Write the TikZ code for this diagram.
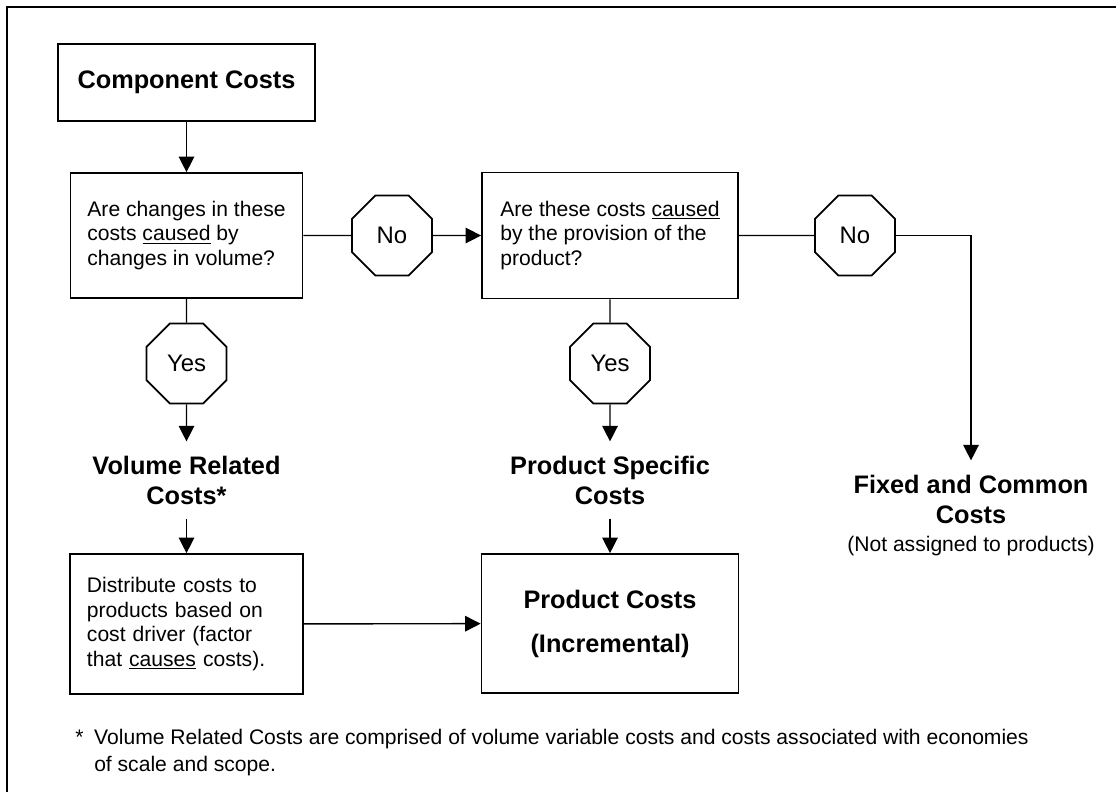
\documentclass[tikz,border=0pt]{standalone}
\usepackage{fontspec}
\setmainfont{Liberation Sans}
\usetikzlibrary{shapes.geometric,arrows.meta}

\newcommand{\headfont}{\fontsize{18}{21.3}\selectfont\bfseries}
\newcommand{\boxfont}{\fontsize{15}{17.5}\selectfont}
\newcommand{\octfont}{\fontsize{17}{20}\selectfont}

\begin{document}
\begin{tikzpicture}[x=0.025cm, y=-0.025cm,
        costbox/.style={draw, line width=1.2pt, align=left, font=\boxfont},
        octo/.style={draw, line width=1.2pt, regular polygon, regular polygon sides=8,
            minimum size=2.165cm, inner sep=0pt, font=\octfont},
        result/.style={align=center, font=\headfont, inner sep=10pt},
        flow/.style={line width=1pt},
        arr/.style={line width=1pt, -{Triangle[length=11pt,width=11pt]}}]
            \useasboundingbox (0,0) rectangle (1116,792);
            \draw[line width=1.2pt] (7,792) -- (7,7) -- (1116,7);

            % boxes
            \node (cc) [draw, line width=1.2pt, font=\headfont, minimum width=6.425cm, minimum height=1.925cm] at (186.5,82.5) {Component Costs};
            \node (q1) [costbox, minimum width=5.8cm, minimum height=3.125cm] at (186.5,235.5)
                {Are changes in these\\costs \underline{caused} by\\changes in volume?};
            \node (q2) [costbox, minimum width=6.4cm, minimum height=3.15cm] at (610,235.5)
                {Are these costs \underline{caused}\\by the provision of the\\product?};
            \node (dist) [costbox, text width=4.975cm, minimum width=5.825cm, minimum height=3.5cm] at (186.5,624)
                {Distribute costs to\\products based on\\cost driver (factor\\that \underline{causes} costs).};
            \node (pc) [draw, line width=1.2pt, align=center, font=\headfont, minimum width=6.425cm, minimum height=3.475cm] at (610,623.5)
                {Product Costs\\[10pt](Incremental)};

            % yes / no
            \node (no1) [octo] at (392,235.5) {No};
            \node (no2) [octo] at (855,235.5) {No};
            \node (yes1) [octo] at (186.5,363.5) {Yes};
            \node (yes2) [octo] at (610,363.5) {Yes};

            % results
            \node (vrc) [result] at (186.5,480) {Volume Related\\Costs*};
            \node (psc) [result] at (610,480) {Product Specific\\Costs};
            \node (fcc) [result] at (971,499) {Fixed and Common\\Costs};
            \node (nap) [font=\boxfont] at (971,546) {(Not assigned to products)};

            \draw[arr] (cc) -- (q1);
            \draw[flow] (q1) -- (no1);
            \draw[arr] (no1) -- (q2);
            \draw[flow] (q2) -- (no2);
            \draw[arr] (no2) -| (fcc);
            \draw[flow] (q1) -- (yes1);
            \draw[arr] (yes1) -- (vrc);
            \draw[arr] (vrc) -- (dist);
            \draw[flow] (q2) -- (yes2);
            \draw[arr] (yes2) -- (psc);
            \draw[arr] (psc) -- (pc);
            \draw[arr] (dist) -- (pc);

            \node (note) [anchor=west, align=left, inner sep=0pt, font=\fontsize{15}{19.2}\selectfont] at (75,753)
                {\makebox[13.5pt][l]{*}Volume Related Costs are comprised of volume variable costs and costs associated with economies\\\hspace*{13.5pt}of scale and scope.};
\end{tikzpicture}
\end{document}
